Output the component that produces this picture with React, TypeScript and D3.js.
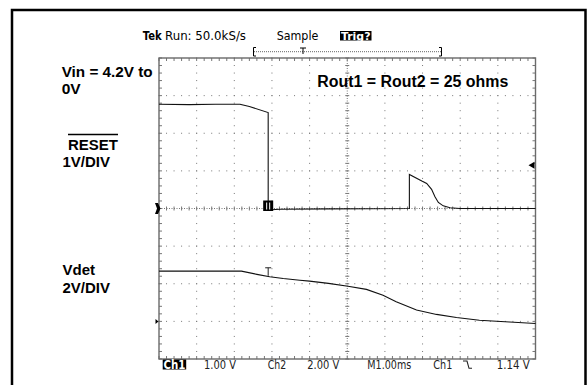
import React from "react";
import * as d3 from "d3";

// Channel 1 (RESET, 1 V/div) — time in ms, volts
const ch1Time = [0, 0.8, 1.5, 2.15, 2.4, 2.9, 2.9, 3.2, 4.5, 6.65, 6.65, 6.98, 7.11, 7.24, 7.33, 7.42, 7.55, 7.73, 7.99, 10];
const ch1Volts = [2.77, 2.76, 2.77, 2.77, 2.71, 2.55, -0.04, -0.02, -0.01, 0.0, 0.906, 0.73, 0.667, 0.51, 0.31, 0.16, 0.07, 0.02, 0.0, 0.0];

// Channel 2 (Vdet, 2 V/div)
const ch2Time = [0, 1.2, 2.19, 2.6, 2.94, 3.3, 3.74, 4.0, 4.5, 5.02, 5.51, 5.95, 6.3, 6.84, 7.37, 7.9, 8.51, 9.31, 10];
const ch2Volts = [2.67, 2.67, 2.67, 2.5, 2.37, 2.28, 2.19, 2.14, 2.02, 1.87, 1.7, 1.39, 1.04, 0.6, 0.37, 0.21, 0.06, -0.03, -0.11];

const ch1VoltsPerDiv = 1;
const ch2VoltsPerDiv = 2;
const ch1OffsetDiv = 0;
const ch2OffsetDiv = -3;

const topLabels = ["Tek", "Run: 50.0kS/s", "Sample", "Trig?"];
const bottomLabels = ["Ch1", "1.00 V", "Ch2", "2.00 V", "M1.00ms", "Ch1", "1.14 V"];
const sideLabels = ["Vin = 4.2V to", "0V", "RESET", "1V/DIV", "Vdet", "2V/DIV"];
const noteLabel = "Rout1 = Rout2 = 25 ohms";

const X0 = 159, X1 = 535.5, Y0 = 58, Y1 = 359;

export default function App() {
  const x = d3.scaleLinear().domain([0, 10]).range([X0, X1]);
  const yDiv = d3.scaleLinear().domain([-4, 4]).range([Y1, Y0]);
  const dx = (X1 - X0) / 10;
  const dy = (Y1 - Y0) / 8;

  const line1 = d3.line<number>()
    .x((_, i) => x(ch1Time[i]))
    .y((v) => yDiv(v / ch1VoltsPerDiv + ch1OffsetDiv));
  const line2 = d3.line<number>()
    .x((_, i) => x(ch2Time[i]))
    .y((v) => yDiv(v / ch2VoltsPerDiv + ch2OffsetDiv));

  const grid: JSX.Element[] = [];
  const gc = "#777";
  d3.range(1, 10).forEach((i) => {
    if (i === 5) return;
    const xx = X0 + i * dx;
    d3.range(0, 41).forEach((k) => {
      grid.push(<rect key={`v${i}-${k}`} x={xx - 0.5} y={Y0 + (k * dy) / 5 - 0.5} width={1} height={1} fill={gc} />);
    });
  });
  d3.range(1, 8).forEach((j) => {
    if (j === 4) return;
    const yy = Y0 + j * dy;
    d3.range(0, 51).forEach((k) => {
      grid.push(<rect key={`h${j}-${k}`} x={X0 + (k * dx) / 5 - 0.5} y={yy - 0.5} width={1} height={1} fill={gc} />);
    });
  });
  const cx = X0 + 5 * dx;
  const cy = Y0 + 4 * dy;
  grid.push(<line key="cv" x1={cx} x2={cx} y1={Y0} y2={Y1} stroke={gc} strokeDasharray="1,1.5" />);
  grid.push(<line key="ch" x1={X0} x2={X1} y1={cy} y2={cy} stroke={gc} strokeDasharray="1,1.5" />);
  d3.range(0, 41).forEach((k) => {
    const yy = Y0 + (k * dy) / 5;
    grid.push(<line key={`cvt${k}`} x1={cx - 2} x2={cx + 2} y1={yy} y2={yy} stroke={gc} />);
    grid.push(<line key={`blt${k}`} x1={X0} x2={X0 + 3} y1={yy} y2={yy} stroke={gc} />);
    grid.push(<line key={`brt${k}`} x1={X1 - 3} x2={X1} y1={yy} y2={yy} stroke={gc} />);
  });
  d3.range(0, 51).forEach((k) => {
    const xx = X0 + (k * dx) / 5;
    grid.push(<line key={`cht${k}`} x1={xx} x2={xx} y1={cy - 2} y2={cy + 2} stroke={gc} />);
    grid.push(<line key={`btt${k}`} x1={xx} x2={xx} y1={Y0} y2={Y0 + 3} stroke={gc} />);
    grid.push(<line key={`bbt${k}`} x1={xx} x2={xx} y1={Y1 - 3} y2={Y1} stroke={gc} />);
  });

  const tekFont = "'DejaVu Sans', sans-serif";
  const boldFont = "'Liberation Sans', Arial, sans-serif";
  const trigX = x(2.9);
  const ch1G = yDiv(ch1OffsetDiv);
  const ch2G = yDiv(ch2OffsetDiv);
  const tY = yDiv(ch2Volts[4] / ch2VoltsPerDiv + ch2OffsetDiv);

  return (
    <svg width={588} height={385} style={{ position: "absolute", left: 0, top: 0, background: "#fff" }}>
      <rect x={0} y={0} width={588} height={385} fill="#fff" />
      <path d="M12,400 V10 H585.5 V400" fill="none" stroke="#000" strokeWidth={2.5} />

      {grid}
      <rect x={X0} y={Y0} width={X1 - X0} height={Y1 - Y0} fill="none" stroke="#6a6a6a" strokeWidth={1.4} />

      <path d={line1(ch1Volts) || ""} fill="none" stroke="#111" strokeWidth={1.1} />
      <path d={line2(ch2Volts) || ""} fill="none" stroke="#111" strokeWidth={1.1} />

      <path d={`M155,${ch1G - 5.5} H158 L160.5,${ch1G} L158,${ch1G + 5.5} H155 L157,${ch1G} Z`} fill="#000" />
      <path d={`M155.5,${ch2G - 2.5} L158.5,${ch2G} L155.5,${ch2G + 2.5} Z`} fill="#000" />
      <path d={`M${X1 - 1},${yDiv(1.15) - 3.5} L${X1 - 7},${yDiv(1.15)} L${X1 - 1},${yDiv(1.15) + 3.5} Z`} fill="#000" />
      <rect x={trigX - 5} y={ch1G - 8} width={10} height={10.5} fill="#000" />
      <line x1={trigX - 1.5} x2={trigX - 1.5} y1={ch1G - 6} y2={ch1G + 1} stroke="#fff" strokeWidth={1} />
      <line x1={trigX + 1.5} x2={trigX + 1.5} y1={ch1G - 6} y2={ch1G + 1} stroke="#fff" strokeWidth={1} />
      <path d={`M${trigX - 3},${tY - 9} H${trigX + 3} M${trigX},${tY - 9} V${tY - 1}`} stroke="#222" strokeWidth={1} fill="none" />

      <text x={142.7} y={40} fontFamily={tekFont} fontSize={12} fontWeight="bold" textLength={19} lengthAdjust="spacingAndGlyphs">{topLabels[0]}</text>
      <text x={165} y={40} fontFamily={tekFont} fontSize={12} textLength={81} lengthAdjust="spacingAndGlyphs">{topLabels[1]}</text>
      <text x={276.7} y={40} fontFamily={tekFont} fontSize={12} textLength={41.6} lengthAdjust="spacingAndGlyphs">{topLabels[2]}</text>
      <rect x={340} y={31} width={31.5} height={9.5} fill="#000" />
      <text x={341} y={39.5} fontFamily={tekFont} fontSize={11} fontWeight="bold" fill="#fff" textLength={29.5} lengthAdjust="spacingAndGlyphs">{topLabels[3]}</text>
      <path d="M256,47.5 H253.5 V56 H256 M439,47.5 H441.5 V56 H439" fill="none" stroke="#000" strokeWidth={1} />
      <line x1={254} x2={441} y1={51.7} y2={51.7} stroke="#666" strokeDasharray="1,1" />
      <path d="M300,48 H306 M303,48 V54" stroke="#000" strokeWidth={1} fill="none" />

      <g fontFamily={boldFont} fontWeight="bold" fontSize={14} fill="#000">
        <text x={61.7} y={77} textLength={91} lengthAdjust="spacingAndGlyphs">{sideLabels[0]}</text>
        <text x={61.7} y={93.5} textLength={19} lengthAdjust="spacingAndGlyphs">{sideLabels[1]}</text>
        <text x={68} y={150} textLength={50} lengthAdjust="spacingAndGlyphs">{sideLabels[2]}</text>
        <line x1={68} x2={118} y1={134.5} y2={134.5} stroke="#000" strokeWidth={1.6} />
        <text x={62.5} y={167} textLength={47.5} lengthAdjust="spacingAndGlyphs">{sideLabels[3]}</text>
        <text x={62.5} y={275} textLength={32.5} lengthAdjust="spacingAndGlyphs">{sideLabels[4]}</text>
        <text x={62.5} y={293.3} textLength={47.5} lengthAdjust="spacingAndGlyphs">{sideLabels[5]}</text>
        <text x={317.3} y={86.7} fontSize={16} textLength={191} lengthAdjust="spacingAndGlyphs">{noteLabel}</text>
      </g>

      <g fontFamily={tekFont} fontSize={11.5} fill="#222">
        <rect x={162.7} y={359.5} width={23.5} height={10} fill="#000" />
        <text x={163.5} y={368.5} fill="#fff" fontWeight="bold" textLength={22} lengthAdjust="spacingAndGlyphs">{bottomLabels[0]}</text>
        <text x={204} y={368.5} textLength={32} lengthAdjust="spacingAndGlyphs">{bottomLabels[1]}</text>
        <text x={267.7} y={368.5} textLength={18.5} lengthAdjust="spacingAndGlyphs">{bottomLabels[2]}</text>
        <text x={307.3} y={368.5} textLength={32} lengthAdjust="spacingAndGlyphs">{bottomLabels[3]}</text>
        <text x={367.3} y={368.5} textLength={44} lengthAdjust="spacingAndGlyphs">{bottomLabels[4]}</text>
        <text x={433.3} y={368.5} textLength={19} lengthAdjust="spacingAndGlyphs">{bottomLabels[5]}</text>
        <path d="M463,361 H467 L469,368.3 H472" fill="none" stroke="#222" strokeWidth={1.1} />
        <text x={496.7} y={368.5} textLength={33} lengthAdjust="spacingAndGlyphs">{bottomLabels[6]}</text>
      </g>
    </svg>
  );
}
